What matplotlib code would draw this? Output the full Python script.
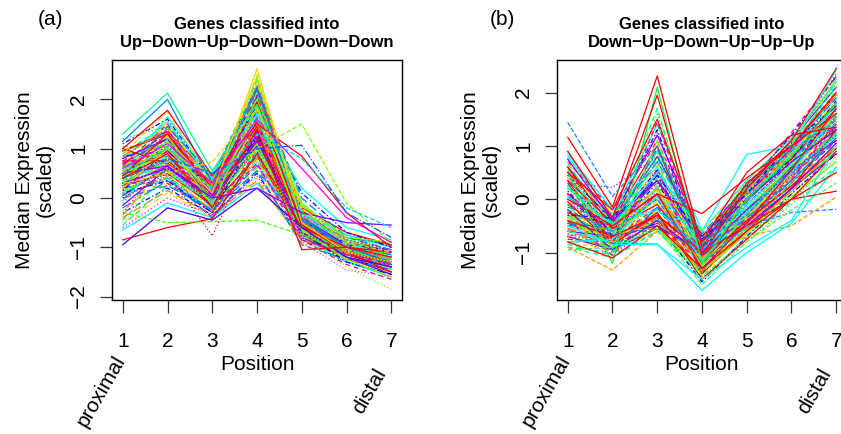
import matplotlib
matplotlib.use("Agg")
import matplotlib.pyplot as plt
import matplotlib.transforms as mtransforms

plt.rcParams['font.family'] = ['Liberation Sans', 'DejaVu Sans']
plt.rcParams['axes.unicode_minus'] = True

positions = [1, 2, 3, 4, 5, 6, 7]
pos_labels = ['1', '2', '3', '4', '5', '6', '7']

# (a) genes classified Up-Down-Up-Down-Down-Down, median expression per position
udu_genes = [
    [0.45, 0.95, 0.10, 1.55, -0.45, -0.95, -1.15],
    [0.30, 0.80, 0.05, 1.30, -0.55, -1.05, -1.25],
    [0.60, 1.20, 0.25, 1.90, -0.35, -0.90, -1.05],
    [0.15, 0.55, -0.15, 1.00, -0.65, -1.10, -1.35],
    [0.50, 1.05, 0.20, 1.75, -0.40, -0.85, -1.10],
    [0.70, 1.35, 0.30, 2.10, -0.30, -0.95, -1.20],
    [0.05, 0.40, -0.25, 0.75, -0.75, -1.20, -1.45],
    [0.35, 0.90, 0.00, 1.45, -0.50, -1.00, -1.30],
    [0.80, 1.45, 0.35, 2.30, -0.20, -0.80, -1.00],
    [0.25, 0.65, -0.05, 1.20, -0.60, -1.15, -1.40],
    [-0.10, 0.30, -0.30, 0.60, -0.80, -1.25, -1.50],
    [0.55, 1.15, 0.15, 1.65, -0.45, -0.90, -1.15],
    [0.40, 0.75, 0.10, 1.10, -0.55, -1.05, -1.20],
    [0.90, 1.50, 0.40, 2.40, -0.25, -0.85, -1.05],
    [0.20, 0.85, -0.10, 1.35, -0.70, -1.10, -1.30],
    [0.65, 1.00, 0.20, 1.50, -0.35, -0.95, -1.25],
    [-0.30, 0.20, -0.35, 0.50, -0.85, -1.30, -1.55],
    [0.45, 1.25, 0.05, 1.85, -0.50, -1.00, -1.35],
    [0.10, 0.60, -0.20, 0.90, -0.60, -1.15, -1.25],
    [0.75, 1.30, 0.25, 2.00, -0.30, -0.90, -1.10],
    [0.35, 0.70, -0.05, 1.25, -0.65, -1.05, -1.40],
    [0.50, 0.95, 0.30, 1.60, -0.40, -0.80, -0.95],
    [-0.50, 0.10, -0.40, 0.40, -0.90, -1.20, -1.45],
    [0.60, 1.40, 0.10, 2.20, -0.45, -1.00, -1.30],
    [0.25, 0.50, -0.15, 0.85, -0.70, -1.20, -1.50],
    [0.85, 1.10, 0.45, 1.70, -0.15, -0.75, -0.95],
    [0.00, 0.45, -0.30, 0.70, -0.75, -1.10, -1.20],
    [0.40, 1.00, 0.15, 1.40, -0.55, -0.95, -1.15],
    [1.10, 1.60, 0.35, 2.05, -0.35, -0.90, -1.10],
    [0.30, 0.85, 0.00, 1.15, -0.60, -1.05, -1.35],
    [-0.65, -0.10, -0.40, 0.30, -0.80, -1.30, -1.60],
    [0.55, 0.90, 0.20, 1.80, -0.40, -1.00, -1.20],
    [0.20, 0.75, -0.10, 1.05, -0.65, -1.15, -1.45],
    [0.70, 1.20, 0.05, 1.95, -0.50, -0.95, -1.25],
    [0.45, 0.60, 0.25, 1.25, -0.30, -0.85, -1.05],
    [-0.20, 0.35, -0.25, 0.65, -0.70, -1.25, -1.35],
    [0.95, 1.35, 0.40, 2.25, -0.25, -0.90, -1.15],
    [0.35, 1.05, -0.05, 1.60, -0.55, -1.05, -1.30],
    [0.15, 0.55, 0.10, 0.95, -0.60, -1.00, -1.40],
    [0.60, 1.25, 0.20, 2.45, -0.45, -1.10, -1.25],
    [0.50, 0.80, -0.20, 1.50, -0.75, -1.20, -1.50],
    [-0.40, 0.15, -0.35, 0.35, -0.85, -1.15, -1.30],
    [0.80, 1.55, 0.30, 1.85, -0.35, -0.95, -1.20],
    [0.25, 0.95, 0.05, 1.35, -0.50, -1.00, -1.10],
    [1.20, 1.45, 0.50, 2.15, -0.20, -0.80, -1.05],
    [0.05, 0.65, -0.15, 1.10, -0.65, -1.10, -1.35],
    [0.40, 1.10, 0.15, 1.70, -0.40, -0.95, -1.45],
    [0.65, 0.85, 0.00, 1.30, -0.60, -1.05, -1.25],
    [0.95, 1.30, 0.10, 1.55, -0.60, -1.15, -1.40],
    [-0.55, 0.25, -0.20, 0.85, -0.70, -1.05, -1.25],
    [0.70, 0.55, -0.10, 1.75, -0.55, -1.10, -1.30],
    [0.10, 1.15, 0.30, 2.30, -0.10, -0.85, -1.15],
    [0.85, 0.95, 0.15, 1.20, -0.45, -0.95, -1.05],
    [-0.35, 0.70, 0.00, 1.40, -0.60, -1.20, -1.55],
    [0.50, 1.65, 0.40, 2.00, -0.30, -0.75, -1.00],
    [0.30, 0.30, -0.30, 0.95, -0.85, -1.35, -1.65],
    [1.05, 1.05, 0.20, 1.65, -0.50, -1.00, -1.20],
    [-0.15, 0.60, 0.05, 1.05, -0.40, -0.95, -1.35],
    [0.60, 1.55, 0.10, 2.50, -0.35, -0.90, -1.20],
    [0.20, 0.40, -0.40, 0.55, -0.95, -1.25, -1.45],
    [0.75, 0.75, 0.35, 1.45, -0.20, -0.70, -0.95],
    [-0.45, 0.50, -0.10, 1.15, -0.55, -1.15, -1.30],
    [0.40, 1.35, 0.25, 2.35, -0.45, -1.05, -1.40],
    [0.95, 0.80, 0.00, 1.10, -0.65, -1.00, -1.15],
    [0.15, 1.00, 0.20, 1.90, 0.10, -0.70, -1.00],
    [0.55, 0.45, -0.25, 0.80, -0.75, -1.25, -1.50],
    [-0.05, 0.90, 0.15, 1.60, -0.30, -0.90, -1.25],
    [0.65, 1.50, 0.05, 2.10, -0.70, -1.15, -1.35],
    [0.35, 0.55, 0.30, 1.00, -0.25, -0.85, -1.10],
    [0.80, 1.20, -0.15, 1.35, -0.80, -1.20, -1.55],
    [-0.25, 0.45, -0.20, 0.75, -0.65, -1.05, -1.20],
    [0.45, 1.45, 0.45, 2.25, 0.00, -0.80, -1.05],
    [1.00, 0.70, 0.10, 1.25, -0.50, -1.10, -1.30],
    [0.25, 1.20, -0.05, 1.80, -0.55, -0.95, -1.45],
    [-0.60, 0.00, -0.35, 0.45, -0.80, -1.20, -1.40],
    [0.55, 1.00, 0.35, 2.00, -0.15, -0.80, -0.90],
    [0.10, 0.35, -0.30, 1.30, -0.70, -1.30, -1.55],
    [0.85, 1.40, 0.25, 1.50, -0.40, -1.00, -1.25],
    [0.30, 0.75, 0.50, 1.70, 0.20, -0.60, -0.85],
    [0.70, 0.95, -0.20, 0.70, -0.85, -1.15, -1.30],
    [-0.10, 1.05, 0.10, 2.05, -0.45, -1.05, -1.35],
    [0.50, 0.65, 0.00, 1.15, -0.60, -0.90, -1.10],
    [0.90, 1.75, 0.30, 2.35, -0.25, -0.95, -1.20],
    [0.00, 0.25, -0.25, 0.55, -0.45, -1.00, -1.15],
    [0.45, 1.30, 0.20, 1.95, -0.55, -1.10, -1.50],
    [0.65, 0.40, -0.05, 0.95, -0.70, -1.20, -1.40],
    [-0.30, 0.80, 0.15, 1.25, -0.35, -0.85, -1.05],
    [0.35, 1.15, -0.15, 1.85, -0.65, -1.25, -1.60],
]
udu_extreme = [
    [1.30, 2.13, 0.55, 1.90, -0.30, -0.90, -1.20],
    [1.15, 2.00, 0.30, 2.20, -0.40, -1.00, -1.30],
    [1.00, 1.78, 0.45, 1.50, 0.85, -0.30, -1.00],
    [-0.85, -0.60, -0.42, 0.90, -0.60, -1.00, -1.10],
    [-0.95, -0.20, -0.45, 0.20, -0.60, -1.20, -1.40],
    [-0.30, -0.50, -0.48, -0.45, -0.75, -1.10, -1.30],
    [0.50, 0.90, 0.20, 1.00, 1.50, -0.10, -0.90],
    [0.20, 1.00, 0.10, 2.62, -0.50, -1.10, -1.30],
    [0.00, 0.50, -0.77, 1.20, -0.70, -1.10, -1.30],
    [0.30, 0.60, 0.00, 0.20, -0.30, -0.50, -0.55],
    [0.60, 1.10, 0.30, 1.60, 0.60, -0.40, -0.90],
    [0.40, 0.90, -0.20, 1.40, -1.05, -1.00, -1.20],
    [0.10, 0.60, -0.10, 1.10, -0.80, -1.40, -1.85],
    [0.50, 1.00, 0.20, 1.30, 0.80, -0.20, -0.60],
    [0.40, 0.80, 0.50, 1.00, 1.07, -0.30, -0.80],
    [0.30, 0.50, 0.73, 1.80, -0.20, -0.90, -1.10],
    [0.20, 0.70, 0.10, 1.50, -0.90, -1.46, -1.60],
]
udu_extreme_colors = ['#00FF99', '#0080FF', '#FF0000', '#FF0000', '#4000FF',
                      '#40FF00', '#80FF00', '#FFD000', '#FF0000', '#8000FF',
                      '#FF00FF', '#FF0000', '#80FF00', '#00D0FF', '#0060FF',
                      '#FFD000', '#FF40FF']
udu_extreme_styles = ['-', '-', '-', '-', '-', '--', '--', '-', ':', '-',
                      '-', '-', ':', '--', '-.', '--', ':']

# (b) genes classified Down-Up-Down-Up-Up-Up
dud_genes = [
    [-0.30, -0.70, 0.10, -1.00, -0.20, 0.60, 1.40],
    [-0.50, -0.80, -0.40, -1.15, -0.40, 0.40, 1.20],
    [0.20, -0.55, 0.60, -0.85, 0.00, 0.80, 1.70],
    [-0.70, -0.90, -0.55, -1.30, -0.55, 0.20, 0.90],
    [0.00, -0.60, 0.30, -0.95, -0.10, 0.70, 1.55],
    [-0.40, -0.75, -0.20, -1.05, -0.30, 0.50, 1.30],
    [0.40, -0.45, 0.90, -0.75, 0.10, 0.95, 1.90],
    [-0.60, -0.85, -0.50, -1.20, -0.45, 0.30, 1.10],
    [-0.20, -0.65, 0.00, -0.90, -0.15, 0.65, 1.50],
    [0.60, -0.35, 1.20, -0.70, 0.25, 1.10, 2.10],
    [-0.80, -0.95, -0.60, -1.40, -0.60, 0.10, 0.80],
    [-0.10, -0.70, 0.20, -1.10, -0.20, 0.55, 1.45],
    [-0.45, -0.80, -0.30, -0.95, -0.35, 0.45, 1.25],
    [0.30, -0.50, 0.70, -1.25, 0.05, 0.85, 1.75],
    [-0.65, -0.85, -0.45, -1.05, -0.50, 0.25, 1.00],
    [-0.25, -0.60, 0.05, -0.80, -0.05, 0.75, 1.60],
    [0.10, -0.65, 0.45, -1.35, -0.25, 0.60, 1.35],
    [-0.55, -1.00, -0.35, -1.15, -0.40, 0.35, 1.15],
    [0.80, -0.30, 1.40, -0.60, 0.35, 1.15, 2.20],
    [-0.35, -0.75, -0.15, -0.90, -0.30, 0.50, 1.05],
    [-0.75, -0.90, -0.50, -1.50, -0.70, 0.00, 0.70],
    [0.05, -0.55, 0.35, -1.00, 0.00, 0.90, 1.80],
    [-0.15, -0.70, -0.05, -1.20, -0.15, 0.65, 1.40],
    [-0.50, -0.65, -0.40, -0.85, -0.45, 0.40, 1.30],
    [0.50, -0.40, 1.00, -1.10, 0.20, 1.00, 1.95],
    [-0.85, -1.05, -0.60, -1.30, -0.65, 0.15, 0.95],
    [-0.05, -0.60, 0.15, -0.75, -0.10, 0.70, 1.65],
    [-0.40, -0.85, -0.25, -1.25, -0.35, 0.45, 1.20],
    [0.25, -0.50, 0.55, -0.95, 0.10, 0.80, 1.50],
    [-0.60, -0.75, -0.45, -1.10, -0.50, 0.30, 1.00],
    [-0.30, -0.80, 0.25, -1.40, -0.25, 0.55, 1.60],
    [0.70, -0.20, 1.10, -0.80, 0.30, 1.05, 2.00],
    [-0.20, -0.70, -0.10, -1.00, -0.20, 0.60, 1.35],
    [-0.70, -0.95, -0.55, -0.90, -0.55, 0.20, 0.85],
    [0.15, -0.55, 0.40, -1.20, 0.05, 0.90, 1.85],
    [-0.45, -0.65, -0.35, -1.35, -0.40, 0.35, 1.10],
    [0.35, -0.45, 0.80, -0.70, 0.15, 0.75, 1.70],
    [-0.90, -1.10, -0.60, -1.45, -0.75, -0.05, 0.60],
    [-0.10, -0.60, 0.05, -1.05, -0.10, 0.70, 1.55],
    [-0.35, -0.85, -0.20, -0.85, -0.30, 0.50, 1.25],
    [0.45, -0.40, 1.30, -1.00, 0.25, 1.20, 2.30],
    [-0.55, -0.80, -0.40, -1.15, -0.45, 0.25, 0.95],
    [0.00, -0.50, 0.20, -0.90, 0.00, 0.85, 1.60],
    [-0.25, -0.75, -0.30, -1.25, -0.35, 0.40, 1.45],
    [-0.65, -0.90, -0.45, -1.00, -0.60, 0.15, 0.75],
    [0.10, -0.60, 0.50, -0.80, 0.10, 0.95, 1.75],
    [0.70, -0.60, 0.20, -1.10, -0.35, 0.50, 1.45],
    [-0.50, -0.45, 0.80, -0.80, 0.15, 0.95, 1.90],
    [0.35, -0.85, -0.30, -1.40, -0.60, 0.20, 1.30],
    [-0.85, -0.65, 0.40, -0.95, -0.05, 0.80, 2.05],
    [0.55, -0.30, 0.00, -1.20, -0.25, 0.45, 1.15],
    [-0.25, -0.95, 1.10, -1.05, 0.10, 1.05, 2.25],
    [0.15, -0.75, -0.45, -1.55, -0.70, 0.10, 0.85],
    [-0.70, -0.50, 0.20, -0.70, 0.20, 0.85, 1.60],
    [0.85, -0.20, 0.60, -1.00, -0.10, 0.65, 1.80],
    [-0.40, -1.05, -0.15, -1.30, -0.45, 0.35, 1.40],
    [0.30, -0.65, 1.60, -0.85, 0.35, 1.15, 2.15],
    [-0.60, -0.70, -0.50, -1.00, -0.20, 0.55, 1.10],
    [0.00, -0.90, 0.30, -1.45, -0.50, 0.40, 1.65],
    [-0.15, -0.40, 0.70, -0.65, 0.25, 0.90, 1.50],
    [0.60, -0.55, -0.10, -1.15, -0.40, 0.25, 0.95],
    [-0.90, -1.00, -0.35, -1.20, -0.55, 0.30, 1.25],
    [0.20, -0.35, 1.25, -0.90, 0.05, 1.00, 2.35],
    [-0.35, -0.60, -0.55, -1.35, -0.65, 0.05, 0.70],
    [0.45, -0.70, 0.45, -0.75, 0.00, 0.75, 1.85],
    [-0.55, -0.90, 0.10, -1.10, -0.30, 0.60, 1.55],
    [0.05, -0.45, -0.20, -0.95, -0.15, 0.50, 1.20],
    [-0.75, -0.80, 0.55, -1.40, 0.05, 0.95, 2.00],
    [0.90, -0.50, 0.90, -1.25, -0.20, 0.70, 1.70],
    [-0.20, -0.95, -0.40, -1.05, -0.50, 0.20, 1.05],
    [0.40, -0.25, 0.15, -0.60, 0.30, 1.10, 1.95],
    [-0.45, -0.55, 0.95, -0.85, -0.05, 0.80, 1.40],
    [-0.05, -0.85, -0.25, -1.50, -0.75, 0.00, 0.90],
    [0.65, -0.45, 1.70, -1.05, 0.15, 0.90, 2.20],
    [-0.65, -1.05, -0.45, -0.90, -0.40, 0.45, 1.35],
    [0.25, -0.60, 0.00, -1.25, -0.30, 0.65, 1.50],
    [-0.30, -0.35, 0.35, -0.70, 0.10, 1.05, 1.75],
    [0.50, -0.80, -0.35, -1.35, -0.55, 0.15, 1.00],
    [-0.80, -0.75, 0.05, -1.15, -0.25, 0.50, 1.60],
    [0.10, -0.55, 1.45, -0.95, 0.20, 1.25, 2.30],
    [-0.10, -1.00, -0.50, -1.45, -0.80, -0.10, 0.55],
    [0.75, -0.40, 0.35, -0.80, 0.00, 0.70, 1.30],
    [-0.50, -0.70, 0.65, -1.20, 0.05, 0.85, 1.85],
    [0.30, -0.95, -0.15, -1.00, -0.35, 0.35, 1.15],
    [-0.25, -0.50, 0.10, -1.30, -0.45, 0.55, 1.70],
    [0.55, -0.65, 0.75, -0.90, 0.25, 1.00, 2.10],
]
dud_extreme = [
    [1.16, -0.15, 2.31, -0.90, 0.30, 1.00, 2.00],
    [1.44, 0.05, 1.00, -0.80, -0.30, 0.60, 1.50],
    [0.30, 0.22, 0.80, -0.70, -0.20, 0.50, 1.20],
    [-0.60, -0.80, -0.84, -1.71, -1.00, -0.45, 0.60],
    [0.20, -0.50, 0.50, -0.60, 0.84, 1.00, 2.42],
    [-0.40, -0.70, -0.30, -1.00, -0.50, 0.00, 0.15],
    [-0.20, -0.60, 0.00, -1.20, -0.50, -0.25, -0.19],
    [-0.90, -1.33, -0.60, -1.10, -0.70, -0.50, 0.04],
    [0.00, -0.50, 0.10, -0.27, 0.40, 1.00, 1.60],
    [0.50, -1.20, 2.10, -1.20, 0.00, 0.80, 1.80],
    [0.50, -0.20, 1.50, -0.80, 0.50, 1.20, 1.35],
    [-0.80, -1.10, -0.50, -1.30, -0.60, 0.00, 0.50],
    [-0.95, -0.90, -0.55, -1.60, -0.80, -0.20, 0.30],
    [0.90, -0.35, 1.95, -1.05, 0.20, 1.10, 2.45],
    [-0.50, -0.85, -0.85, -1.50, -0.90, -0.40, 1.00],
]
dud_extreme_colors = ['#FF0000', '#2080FF', '#4040FF', '#00FFFF', '#00FFFF',
                      '#FF0000', '#2080FF', '#FF9900', '#FF0000', '#00FF40',
                      '#FF0000', '#FF0000', '#40FF40', '#FF0000', '#00FFFF']
dud_extreme_styles = ['-', '--', ':', '-', '-', '-', '--', '--', '-', '-',
                      '-', '-', '--', '-', '-']

palette = ['#FF0000', '#FF8000', '#FFD000', '#80FF00', '#00FF00', '#00FF80',
           '#00FFFF', '#0080FF', '#0000FF', '#8000FF', '#FF00FF', '#FF0080']
line_styles = ['-', (0, (4, 3)), (0, (1, 2)), '-', (0, (1, 2, 4, 2)), (0, (7, 3))]


def draw_panel(ax, genes, extreme, extreme_cols, extreme_ls, ylim, title, tag, ylab_x):
    for i, g in enumerate(genes):
        ax.plot(positions, g, color=palette[(i * 5) % len(palette)],
                ls=line_styles[i % len(line_styles)], lw=0.9)
    for g, c, s in zip(extreme, extreme_cols, extreme_ls):
        ax.plot(positions, g, color=c, ls=s, lw=0.9)

    ax.set_xlim(0.76, 7.24)
    ax.set_ylim(*ylim)
    ax.set_xticks(positions)
    ax.set_xticklabels(pos_labels)
    ax.tick_params(axis='both', direction='out', length=9, width=0.9,
                   labelsize=15, color='#333333')
    ax.tick_params(axis='x', pad=14)
    ax.tick_params(axis='y', pad=8, labelrotation=90)
    for sp in ax.spines.values():
        sp.set_linewidth(1.0)
    ax.set_xlabel('Position', fontsize=15, labelpad=3)

    # rotated end labels under the position axis
    trans = mtransforms.blended_transform_factory(ax.transData, ax.figure.transFigure)
    ax.text(0.52, 0.099, 'proximal', transform=trans, rotation=60, fontsize=15,
            ha='center', va='center', rotation_mode='anchor', clip_on=False)
    ax.text(6.52, 0.099, 'distal', transform=trans, rotation=60, fontsize=15,
            ha='center', va='center', rotation_mode='anchor', clip_on=False)

    bb = ax.get_position()
    cx = bb.x0 + bb.width / 2
    ax.figure.text(cx, 0.922, title, ha='center', va='center', fontsize=12,
                   fontweight='bold', linespacing=1.25)
    ax.figure.text(ylab_x, 0.585, 'Median Expression\n(scaled)', rotation=90,
                   ha='center', va='center', fontsize=15, multialignment='center',
                   linespacing=1.15)
    ax.figure.text(tag[1], 0.954, tag[0], ha='center', va='center', fontsize=15)


fig = plt.figure(figsize=(8.41, 4.34), dpi=100)
ax_a = fig.add_axes([0.1332, 0.3088, 0.3448, 0.553])
ax_b = fig.add_axes([0.6623, 0.3088, 0.3448, 0.553])

draw_panel(ax_a, udu_genes, udu_extreme, udu_extreme_colors, udu_extreme_styles,
           (-2.07, 2.8), 'Genes classified into\nUp\u2212Down\u2212Up\u2212Down\u2212Down\u2212Down',
           ('(a)', 0.0595), 35 / 841)
ax_a.set_yticks([-2, -1, 0, 1, 2])

draw_panel(ax_b, dud_genes, dud_extreme, dud_extreme_colors, dud_extreme_styles,
           (-1.89, 2.61), 'Genes classified into\nDown\u2212Up\u2212Down\u2212Up\u2212Up\u2212Up',
           ('(b)', 0.598), 481 / 841)
ax_b.set_yticks([-1, 0, 1, 2])

for ax in (ax_a, ax_b):
    for lab in ax.get_yticklabels():
        lab.set_va('center')

fig.savefig('out.png', dpi=100)
